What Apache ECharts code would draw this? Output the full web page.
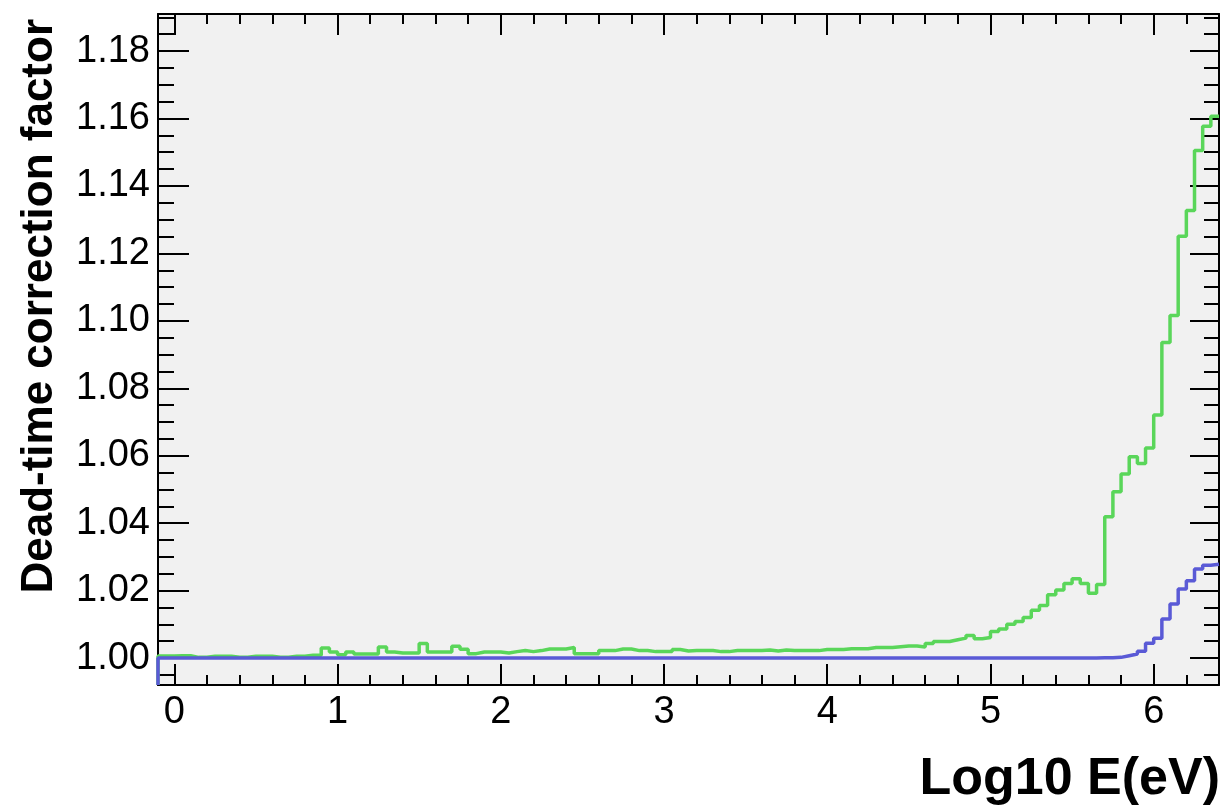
<!DOCTYPE html>
<html>
<head>
<meta charset="utf-8">
<title>Dead-time correction factor</title>
<script src="https://cdn.jsdelivr.net/npm/echarts@6/dist/echarts.min.js"></script>
<style>
  html, body { margin: 0; padding: 0; background: #ffffff; }
  #chart { width: 1225px; height: 809px; }
</style>
</head>
<body>
<div id="chart"></div>
<script>
// Histogram binning: 130 bins of 0.05 in log10(E/eV), starting at -0.1
const binLow = -0.1;
const binWidth = 0.05;

// Axis ranges
const xMin = -0.1, xMax = 6.4;
const yMin = 0.992, yMax = 1.191;

// Tick labels
const xMajorTicks = [0, 1, 2, 3, 4, 5, 6];
const yMajorTicks = [1.00, 1.02, 1.04, 1.06, 1.08, 1.10, 1.12, 1.14, 1.16, 1.18];

// Correction factor per bin (green histogram)
const greenValues = [
  1.0006, 1.0006, 1.0007, 1.0007, 1.0002, 1.0002, 1.0005, 1.0005, 1.0005, 1.0002,
  1.0002, 1.0005, 1.0005, 1.0005, 1.0002, 1.0002, 1.0005, 1.0005, 1.0008, 1.0008,
  1.0030, 1.0018, 1.0010, 1.0018, 1.0012, 1.0012, 1.0012, 1.0033, 1.0018, 1.0015,
  1.0015, 1.0015, 1.0043, 1.0018, 1.0018, 1.0018, 1.0035, 1.0026, 1.0013, 1.0018,
  1.0018, 1.0018, 1.0015, 1.0019, 1.0022, 1.0019, 1.0022, 1.0027, 1.0027, 1.0027,
  1.0031, 1.0013, 1.0013, 1.0013, 1.0022, 1.0022, 1.0027, 1.0027, 1.0022, 1.0022,
  1.0019, 1.0019, 1.0019, 1.0025, 1.0021, 1.0022, 1.0022, 1.0022, 1.0019, 1.0019,
  1.0022, 1.0022, 1.0022, 1.0022, 1.00235, 1.0021, 1.00235, 1.0022, 1.0022, 1.0022,
  1.0022, 1.00255, 1.00255, 1.00255, 1.00275, 1.00275, 1.00275, 1.00315, 1.00315, 1.00315,
  1.00335, 1.00355, 1.00355, 1.0033, 1.0043, 1.0049, 1.0049, 1.0054, 1.0059, 1.0067,
  1.0057, 1.0061, 1.0079, 1.0086, 1.0100, 1.0108, 1.0120, 1.0142, 1.0156, 1.0188,
  1.0202, 1.0221, 1.0235, 1.0221, 1.0192, 1.0218, 1.0419, 1.0493, 1.0546, 1.0597,
  1.0577, 1.0623, 1.0721, 1.0936, 1.1016, 1.1251, 1.1327, 1.1505, 1.1577, 1.1607
];

// Correction factor per bin (blue histogram)
const blueValues = [
  1.0000, 1.0000, 1.0000, 1.0000, 1.0000, 1.0000, 1.0000, 1.0000, 1.0000, 1.0000,
  1.0000, 1.0000, 1.0000, 1.0000, 1.0000, 1.0000, 1.0000, 1.0000, 1.0000, 1.0000,
  1.0000, 1.0000, 1.0000, 1.0000, 1.0000, 1.0000, 1.0000, 1.0000, 1.0000, 1.0000,
  1.0000, 1.0000, 1.0000, 1.0000, 1.0000, 1.0000, 1.0000, 1.0000, 1.0000, 1.0000,
  1.0000, 1.0000, 1.0000, 1.0000, 1.0000, 1.0000, 1.0000, 1.0000, 1.0000, 1.0000,
  1.0000, 1.0000, 1.0000, 1.0000, 1.0000, 1.0000, 1.0000, 1.0000, 1.0000, 1.0000,
  1.0000, 1.0000, 1.0000, 1.0000, 1.0000, 1.0000, 1.0000, 1.0000, 1.0000, 1.0000,
  1.0000, 1.0000, 1.0000, 1.0000, 1.0000, 1.0000, 1.0000, 1.0000, 1.0000, 1.0000,
  1.0000, 1.0000, 1.0000, 1.0000, 1.0000, 1.0000, 1.0000, 1.0000, 1.0000, 1.0000,
  1.0000, 1.0000, 1.0000, 1.0000, 1.0000, 1.0000, 1.0000, 1.0000, 1.0000, 1.0000,
  1.0000, 1.0000, 1.0000, 1.0000, 1.0000, 1.0000, 1.0000, 1.0000, 1.0000, 1.0000,
  1.0000, 1.0000, 1.0000, 1.0000, 1.0000, 1.00005, 1.0001, 1.0002, 1.0007, 1.0012,
  1.0020, 1.0044, 1.0059, 1.0116, 1.0160, 1.0205, 1.0229, 1.0264, 1.0275, 1.0278
];

const FONT = '"Liberation Sans", Helvetica, Arial, sans-serif';
const greenColor = '#5ad65a';
const blueColor = '#5a5ad6';

// Step outline of a histogram: rises from the axis floor at the first edge,
// then one point per bin at its lower edge, closed at the upper edge of the last bin.
function histogramOutline(values) {
  const pts = [[binLow, yMin]];
  values.forEach((v, i) => pts.push([+(binLow + i * binWidth).toFixed(3), v]));
  pts.push([+(binLow + values.length * binWidth).toFixed(3), values[values.length - 1]]);
  return pts;
}

// Minor tick positions
const xMinorTicks = [];
for (let k = 0; k <= 32; k++) xMinorTicks.push(+(k * 0.2).toFixed(2));
const yMinorTicks = [];
for (let k = 199; k <= 238; k++) yMinorTicks.push(+(k * 0.005).toFixed(3));

const tickStyle = { color: '#000', width: 2 };

function xAxisDef(position, ticks, len, withLabels, withLine) {
  return {
    type: 'value', position: position, min: xMin, max: xMax,
    axisLine: { show: withLine, onZero: false, lineStyle: { color: '#000', width: 2 } },
    axisTick: { show: true, inside: true, length: len, customValues: ticks, lineStyle: tickStyle },
    axisLabel: withLabels ? {
      show: true, customValues: ticks, margin: 9, color: '#000',
      fontFamily: FONT, fontSize: 38, formatter: v => String(Math.round(v))
    } : { show: false },
    splitLine: { show: false }, minorTick: { show: false }
  };
}

function yAxisDef(position, ticks, len, withLabels, withLine) {
  return {
    type: 'value', position: position, min: yMin, max: yMax,
    axisLine: { show: withLine, onZero: false, lineStyle: { color: '#000', width: 2 } },
    axisTick: { show: true, inside: true, length: len, customValues: ticks, lineStyle: tickStyle },
    axisLabel: withLabels ? {
      show: true, customValues: ticks, margin: 8, color: '#000',
      fontFamily: FONT, fontSize: 38, formatter: v => v.toFixed(2)
    } : { show: false },
    splitLine: { show: false }, minorTick: { show: false }
  };
}

const chart = echarts.init(document.getElementById('chart'), null, { renderer: 'canvas' });

chart.setOption({
  animation: false,
  backgroundColor: '#ffffff',
  grid: {
    left: 158, top: 14, right: 6, bottom: 124,
    show: true, backgroundColor: '#f1f1f1', borderWidth: 0
  },
  xAxis: [
    xAxisDef('bottom', xMajorTicks, 21, true, true),
    xAxisDef('bottom', xMinorTicks, 10, false, false),
    xAxisDef('top', xMajorTicks, 21, false, true),
    xAxisDef('top', xMinorTicks, 10, false, false)
  ],
  yAxis: [
    yAxisDef('left', yMajorTicks, 31, true, true),
    yAxisDef('left', yMinorTicks, 16, false, false),
    yAxisDef('right', yMajorTicks, 29, false, true),
    yAxisDef('right', yMinorTicks, 15, false, false)
  ],
  graphic: [
    {
      type: 'text', x: 1220, y: 780,
      style: {
        text: 'Log10 E(eV)', fill: '#000', fontFamily: FONT, fontWeight: 'bold',
        fontSize: 52, textAlign: 'right', textVerticalAlign: 'middle'
      }
    },
    {
      type: 'text', x: 40, y: 19, rotation: Math.PI / 2,
      style: {
        text: 'Dead-time correction factor', fill: '#000', fontFamily: FONT, fontWeight: 'bold',
        fontSize: 44, textAlign: 'right', textVerticalAlign: 'middle'
      }
    }
  ],
  series: [
    {
      name: 'green', type: 'line', step: 'end', xAxisIndex: 0, yAxisIndex: 0,
      data: histogramOutline(greenValues), showSymbol: false, clip: true,
      lineStyle: { color: greenColor, width: 3.5 }, z: 3
    },
    {
      name: 'blue', type: 'line', step: 'end', xAxisIndex: 0, yAxisIndex: 0,
      data: histogramOutline(blueValues), showSymbol: false, clip: true,
      lineStyle: { color: blueColor, width: 3.5 }, z: 4
    }
  ]
});
</script>
</body>
</html>
